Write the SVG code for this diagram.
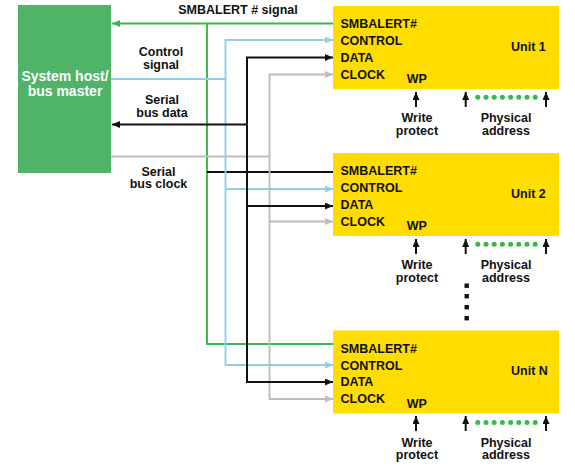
<svg xmlns="http://www.w3.org/2000/svg" width="575" height="467" viewBox="0 0 575 467">
<defs>
<style>
text{font-family:"Liberation Sans",Arial,sans-serif;font-weight:bold;font-size:12.5px;fill:#111}
.host{fill:#4fb467}
.hosttxt{fill:#fff;font-size:14px;text-anchor:middle}
.unit{fill:#ffdd00}
.mid{text-anchor:middle}
.g{stroke:#3cb54b;stroke-width:1.9;fill:none}
.b{stroke:#8dd0e8;stroke-width:1.9;fill:none}
.k{stroke:#111;stroke-width:2;fill:none}
.y{stroke:#bdbdbd;stroke-width:1.9;fill:none}
.up{stroke:#111;stroke-width:2;fill:none;marker-end:url(#ak)}
.dot{fill:#3cb54b}
.sq{fill:#111}
</style>
<marker id="ag" viewBox="0 0 8 7" refX="8" refY="3.5" markerWidth="8" markerHeight="7" markerUnits="userSpaceOnUse" orient="auto"><path d="M0,0L8,3.5L0,7z" fill="#3cb54b"/></marker>
<marker id="ab" viewBox="0 0 8 7" refX="8" refY="3.5" markerWidth="8" markerHeight="7" markerUnits="userSpaceOnUse" orient="auto"><path d="M0,0L8,3.5L0,7z" fill="#8dd0e8"/></marker>
<marker id="ak" viewBox="0 0 8 7" refX="8" refY="3.5" markerWidth="8" markerHeight="7" markerUnits="userSpaceOnUse" orient="auto"><path d="M0,0L8,3.5L0,7z" fill="#111"/></marker>
<marker id="ay" viewBox="0 0 8 7" refX="8" refY="3.5" markerWidth="8" markerHeight="7" markerUnits="userSpaceOnUse" orient="auto"><path d="M0,0L8,3.5L0,7z" fill="#bdbdbd"/></marker>
</defs>
<rect width="575" height="467" fill="#fff"/>

<g id="connectors">
  <path class="g" d="M333,23.5H112" marker-end="url(#ag)"/>
  <path class="g" d="M207,23.5V344H333"/>
  <path class="k" d="M207,172H333"/>
  <path class="b" d="M111,79H225.5"/>
  <path class="b" d="M225.5,79V40H333" marker-end="url(#ab)"/>
  <path class="b" d="M225.5,79V365H333" marker-end="url(#ab)"/>
  <path class="b" d="M225.5,189H333" marker-end="url(#ab)"/>
  <path class="y" d="M111,156.5H269.5"/>
  <path class="y" d="M269.5,156.5V74.5H333" marker-end="url(#ay)"/>
  <path class="y" d="M269.5,156.5V399H333" marker-end="url(#ay)"/>
  <path class="y" d="M269.5,221.5H333" marker-end="url(#ay)"/>
  <path class="k" d="M247,124.5H112" marker-end="url(#ak)"/>
  <path class="k" d="M247,124.5V57.5H333" marker-end="url(#ak)"/>
  <path class="k" d="M247,124.5V382H333" marker-end="url(#ak)"/>
  <path class="k" d="M247,206H333" marker-end="url(#ak)"/>
</g>

<g id="labels">
  <text x="238" y="13.5" class="mid">SMBALERT # signal</text>
  <text x="161" y="56" class="mid">Control</text>
  <text x="161" y="68.5" class="mid">signal</text>
  <text x="162" y="104" class="mid">Serial</text>
  <text x="162" y="116.5" class="mid">bus data</text>
  <text x="158.5" y="175.5" class="mid">Serial</text>
  <text x="158.5" y="188" class="mid">bus clock</text>
</g>

<g id="host">
  <rect class="host" x="18" y="5" width="93" height="168"/>
  <text class="hosttxt" x="65" y="80.5">System host/</text>
  <text class="hosttxt" x="65" y="95.5">bus master</text>
</g>

<g id="unit1">
  <rect class="unit" x="333" y="6" width="226" height="83"/>
  <text x="340.5" y="28">SMBALERT#</text>
  <text x="340.5" y="45.3">CONTROL</text>
  <text x="340.5" y="62.3">DATA</text>
  <text x="340.5" y="78.8">CLOCK</text>
  <text x="406.7" y="83.3">WP</text>
  <text x="511" y="50.5">Unit 1</text>
  <path class="up" d="M416,107V92"/>
  <path class="up" d="M465.7,107V92"/>
  <path class="up" d="M546,107V92"/>
  <g class="dot">
    <circle cx="477.8" cy="97.3" r="2.5"/><circle cx="486" cy="97.3" r="2.5"/><circle cx="494.2" cy="97.3" r="2.5"/><circle cx="502.4" cy="97.3" r="2.5"/><circle cx="510.6" cy="97.3" r="2.5"/><circle cx="518.8" cy="97.3" r="2.5"/><circle cx="527" cy="97.3" r="2.5"/><circle cx="535.2" cy="97.3" r="2.5"/>
  </g>
  <text x="417" y="122" class="mid">Write</text>
  <text x="417" y="134.5" class="mid">protect</text>
  <text x="506" y="122" class="mid">Physical</text>
  <text x="506" y="134.5" class="mid">address</text>
</g>

<g id="unit2">
  <rect class="unit" x="333" y="153" width="226" height="83"/>
  <text x="340.5" y="175">SMBALERT#</text>
  <text x="340.5" y="192.3">CONTROL</text>
  <text x="340.5" y="209.3">DATA</text>
  <text x="340.5" y="225.8">CLOCK</text>
  <text x="406.7" y="230.3">WP</text>
  <text x="511" y="197.5">Unit 2</text>
  <path class="up" d="M416,254V239"/>
  <path class="up" d="M465.7,254V239"/>
  <path class="up" d="M546,254V239"/>
  <g class="dot">
    <circle cx="477.8" cy="244.3" r="2.5"/><circle cx="486" cy="244.3" r="2.5"/><circle cx="494.2" cy="244.3" r="2.5"/><circle cx="502.4" cy="244.3" r="2.5"/><circle cx="510.6" cy="244.3" r="2.5"/><circle cx="518.8" cy="244.3" r="2.5"/><circle cx="527" cy="244.3" r="2.5"/><circle cx="535.2" cy="244.3" r="2.5"/>
  </g>
  <text x="417" y="269" class="mid">Write</text>
  <text x="417" y="281.5" class="mid">protect</text>
  <text x="506" y="269" class="mid">Physical</text>
  <text x="506" y="281.5" class="mid">address</text>
</g>

<g id="ellipsis">
  <rect class="sq" x="464.5" y="283.5" width="4.4" height="4.4"/>
  <rect class="sq" x="464.5" y="294" width="4.4" height="4.4"/>
  <rect class="sq" x="464.5" y="305" width="4.4" height="4.4"/>
  <rect class="sq" x="464.5" y="316" width="4.4" height="4.4"/>
</g>

<g id="unitN">
  <rect class="unit" x="333" y="330.5" width="226" height="83"/>
  <text x="340.5" y="352.8">SMBALERT#</text>
  <text x="340.5" y="369.5">CONTROL</text>
  <text x="340.5" y="386">DATA</text>
  <text x="340.5" y="403.3">CLOCK</text>
  <text x="406.7" y="407.5">WP</text>
  <text x="511" y="375">Unit N</text>
  <path class="up" d="M416,431V416"/>
  <path class="up" d="M465.7,431V416"/>
  <path class="up" d="M546,431V416"/>
  <g class="dot">
    <circle cx="477.8" cy="422.5" r="2.5"/><circle cx="486" cy="422.5" r="2.5"/><circle cx="494.2" cy="422.5" r="2.5"/><circle cx="502.4" cy="422.5" r="2.5"/><circle cx="510.6" cy="422.5" r="2.5"/><circle cx="518.8" cy="422.5" r="2.5"/><circle cx="527" cy="422.5" r="2.5"/><circle cx="535.2" cy="422.5" r="2.5"/>
  </g>
  <text x="417" y="446.5" class="mid">Write</text>
  <text x="417" y="459" class="mid">protect</text>
  <text x="506" y="446.5" class="mid">Physical</text>
  <text x="506" y="459" class="mid">address</text>
</g>
</svg>
